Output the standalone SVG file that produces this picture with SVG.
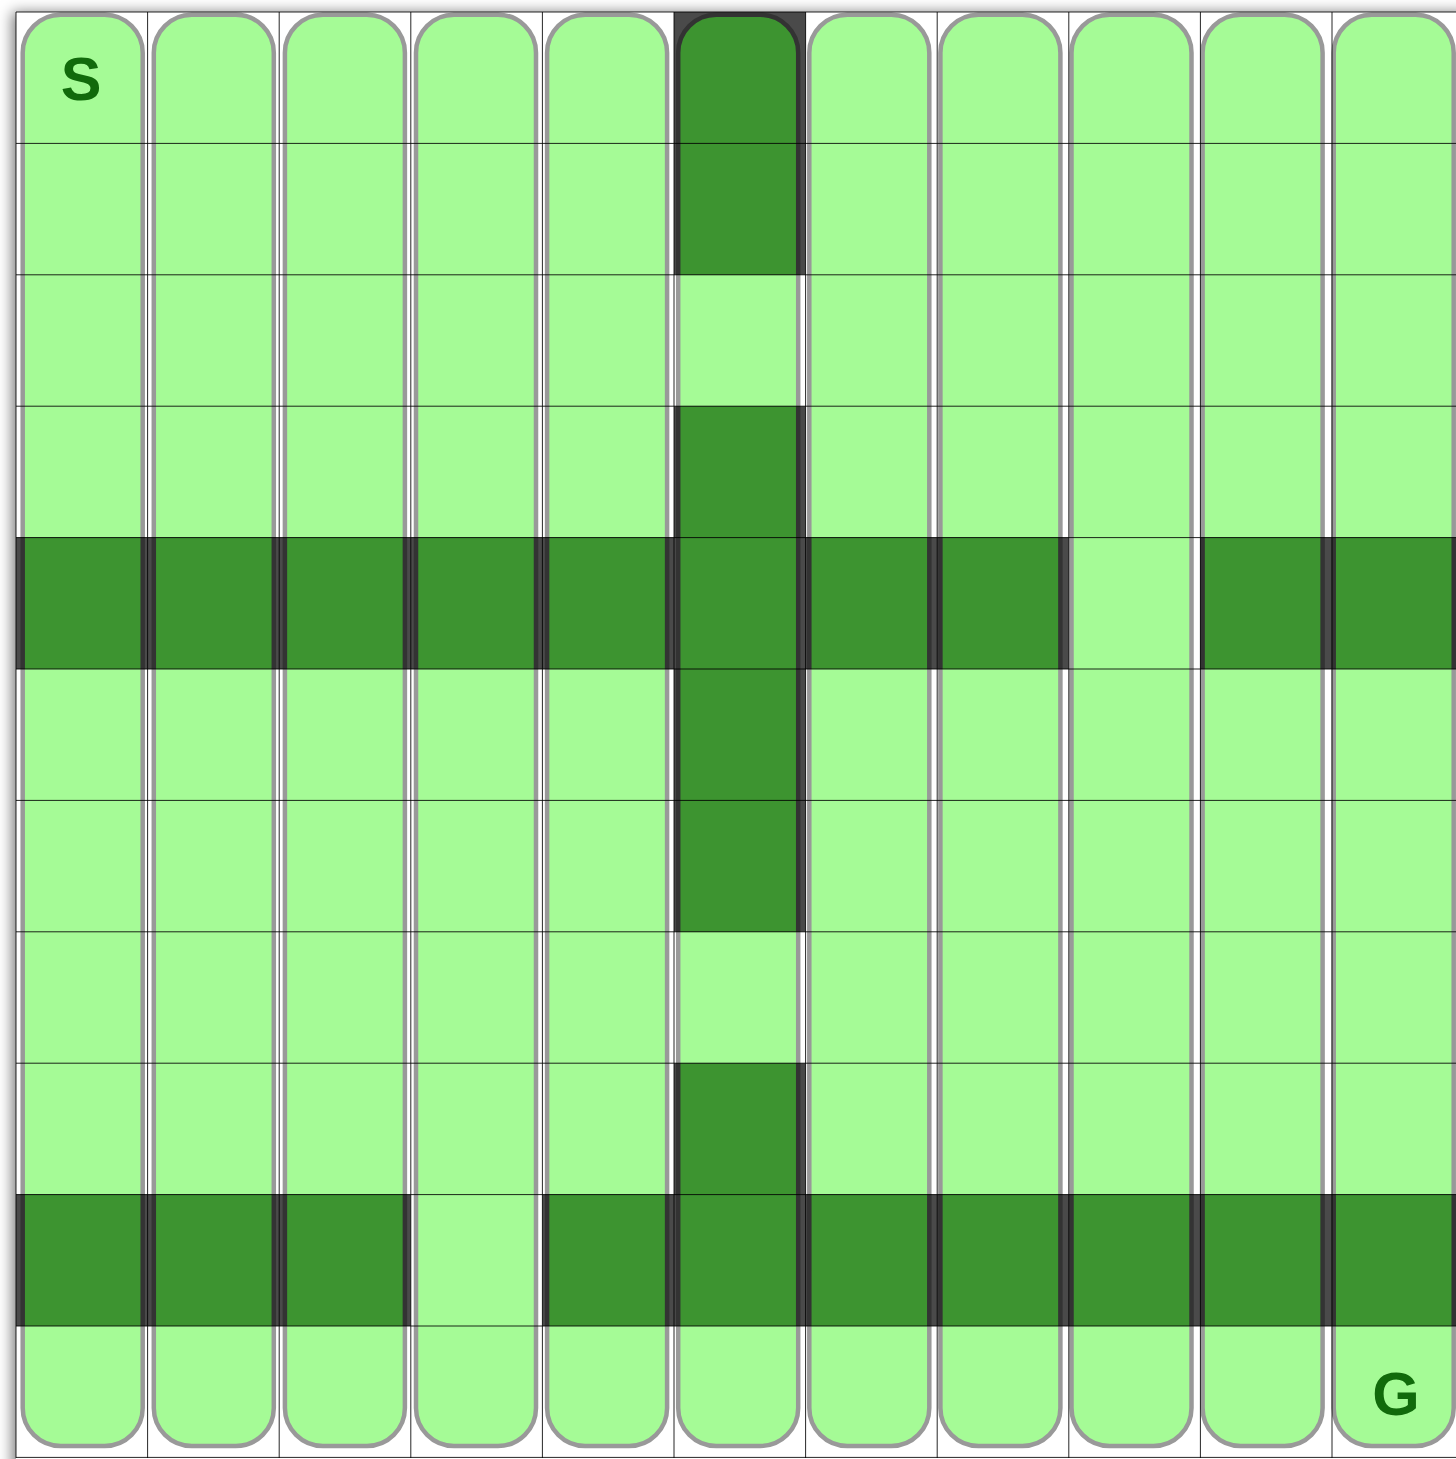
<svg xmlns="http://www.w3.org/2000/svg" xmlns:xlink="http://www.w3.org/1999/xlink" width="1456" height="1459" viewBox="0 0 1456 1459">
<style>
  .light { fill: #a5fb96; stroke: #999999; stroke-width: 4.5; }
  .dark { fill: #3d9430; stroke: #333333; stroke-width: 4.5; }
  .grid line { stroke: #000; stroke-width: 1; stroke-opacity: 0.85; }
  .lbl { font-family: "Liberation Sans", Arial, sans-serif; font-weight: bold; font-size: 61px; fill: #116a0b; text-anchor: middle; }
</style>
<defs>
  <rect id="pill" x="0" y="14.7" width="120" height="1431.3" rx="38" ry="38"/>
  <filter id="shadow" x="-5%" y="-5%" width="110%" height="110%">
    <feDropShadow dx="-4" dy="0" stdDeviation="7" flood-color="#000" flood-opacity="0.5"/>
  </filter>
  <clipPath id="walls">
    <rect x="674" y="12" width="131.6" height="131.4"/>
    <rect x="674" y="143.4" width="131.6" height="131.4"/>
    <rect x="674" y="406.2" width="131.6" height="131.4"/>
    <rect x="674" y="669" width="131.6" height="131.4"/>
    <rect x="674" y="800.4" width="131.6" height="131.4"/>
    <rect x="674" y="1063.2" width="131.6" height="131.4"/>
    <rect x="16" y="537.6" width="1052.8" height="131.4"/>
    <rect x="1200.4" y="537.6" width="263.2" height="131.4"/>
    <rect x="16" y="1194.6" width="394.8" height="131.4"/>
    <rect x="542.4" y="1194.6" width="921.2" height="131.4"/>
  </clipPath>
</defs>

<rect x="0" y="0" width="1456" height="1459" fill="#ffffff"/>
<rect x="16" y="12" width="1460" height="1460" fill="#ffffff" filter="url(#shadow)"/>

<g id="columns">
  <g id="col-0"><use xlink:href="#pill" x="22.7" class="light"/></g>
  <g id="col-1"><use xlink:href="#pill" x="153.8" class="light"/></g>
  <g id="col-2"><use xlink:href="#pill" x="284.9" class="light"/></g>
  <g id="col-3"><use xlink:href="#pill" x="416" class="light"/></g>
  <g id="col-4"><use xlink:href="#pill" x="547.1" class="light"/></g>
  <g id="col-5"><use xlink:href="#pill" x="678.2" class="light"/></g>
  <g id="col-6"><use xlink:href="#pill" x="809.3" class="light"/></g>
  <g id="col-7"><use xlink:href="#pill" x="940.4" class="light"/></g>
  <g id="col-8"><use xlink:href="#pill" x="1071.5" class="light"/></g>
  <g id="col-9"><use xlink:href="#pill" x="1202.6" class="light"/></g>
  <g id="col-10"><use xlink:href="#pill" x="1333.7" class="light"/></g>
</g>

<g id="walls-layer" clip-path="url(#walls)">
  <rect x="0" y="0" width="1456" height="1459" fill="#4a4a4a"/>
  <use xlink:href="#pill" x="22.7" class="dark"/>
  <use xlink:href="#pill" x="153.8" class="dark"/>
  <use xlink:href="#pill" x="284.9" class="dark"/>
  <use xlink:href="#pill" x="416" class="dark"/>
  <use xlink:href="#pill" x="547.1" class="dark"/>
  <use xlink:href="#pill" x="678.2" class="dark"/>
  <use xlink:href="#pill" x="809.3" class="dark"/>
  <use xlink:href="#pill" x="940.4" class="dark"/>
  <use xlink:href="#pill" x="1071.5" class="dark"/>
  <use xlink:href="#pill" x="1202.6" class="dark"/>
  <use xlink:href="#pill" x="1333.7" class="dark"/>
</g>

<g id="connectors" class="grid">
  <line x1="16" y1="12" x2="16" y2="1458"/>
  <line x1="147.6" y1="12" x2="147.6" y2="1458"/>
  <line x1="279.2" y1="12" x2="279.2" y2="1458"/>
  <line x1="410.8" y1="12" x2="410.8" y2="1458"/>
  <line x1="542.4" y1="12" x2="542.4" y2="1458"/>
  <line x1="674" y1="12" x2="674" y2="1458"/>
  <line x1="805.6" y1="12" x2="805.6" y2="1458"/>
  <line x1="937.2" y1="12" x2="937.2" y2="1458"/>
  <line x1="1068.8" y1="12" x2="1068.8" y2="1458"/>
  <line x1="1200.4" y1="12" x2="1200.4" y2="1458"/>
  <line x1="1332" y1="12" x2="1332" y2="1458"/>
  <line x1="16" y1="12" x2="1456" y2="12"/>
  <line x1="16" y1="143.4" x2="1456" y2="143.4"/>
  <line x1="16" y1="274.8" x2="1456" y2="274.8"/>
  <line x1="16" y1="406.2" x2="1456" y2="406.2"/>
  <line x1="16" y1="537.6" x2="1456" y2="537.6"/>
  <line x1="16" y1="669" x2="1456" y2="669"/>
  <line x1="16" y1="800.4" x2="1456" y2="800.4"/>
  <line x1="16" y1="931.8" x2="1456" y2="931.8"/>
  <line x1="16" y1="1063.2" x2="1456" y2="1063.2"/>
  <line x1="16" y1="1194.6" x2="1456" y2="1194.6"/>
  <line x1="16" y1="1326" x2="1456" y2="1326"/>
  <line x1="16" y1="1457.4" x2="1456" y2="1457.4"/>
</g>

<g id="start"><text class="lbl" x="81" y="100">S</text></g>
<g id="goal"><text class="lbl" x="1396" y="1415">G</text></g>
</svg>
